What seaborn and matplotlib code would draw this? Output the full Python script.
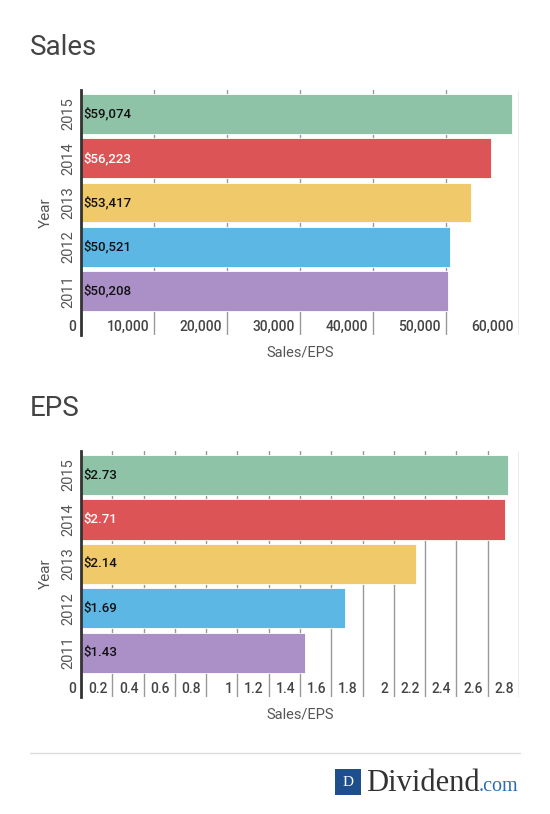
import matplotlib
matplotlib.use("Agg")
import matplotlib.pyplot as plt
from matplotlib.patches import Rectangle
import seaborn as sns
import pandas as pd

# chart data
years = ["2015", "2014", "2013", "2012", "2011"]
sales = [59074, 56223, 53417, 50521, 50208]
eps = [2.73, 2.71, 2.14, 1.69, 1.43]
sales_labels = ["$59,074", "$56,223", "$53,417", "$50,521", "$50,208"]
eps_labels = ["$2.73", "$2.71", "$2.14", "$1.69", "$1.43"]
sales_ticks = [0, 10000, 20000, 30000, 40000, 50000, 60000]
sales_ticklabels = ["0", "10,000", "20,000", "30,000", "40,000", "50,000", "60,000"]
eps_ticks = [0, 0.2, 0.4, 0.6, 0.8, 1.0, 1.2, 1.4, 1.6, 1.8, 2.0, 2.2, 2.4, 2.6, 2.8]
eps_ticklabels = ["0", "0.2", "0.4", "0.6", "0.8", "1", "1.2", "1.4", "1.6", "1.8",
                  "2", "2.2", "2.4", "2.6", "2.8"]
colors = ["#8fc3a8", "#dd5457", "#efc96a", "#5db7e4", "#ab90c7"]
label_colors = ["#111111", "#ffffff", "#111111", "#111111", "#111111"]

sns.set_theme(style="white")
plt.rcParams["font.family"] = ["Roboto", "DejaVu Sans"]

fig = plt.figure(figsize=(5.5, 8.14), dpi=100)
ax1 = fig.add_axes([81 / 550, 1 - 335 / 814, 438 / 550, 245 / 814])
ax2 = fig.add_axes([81 / 550, 1 - 697 / 814, 438 / 550, 246 / 814])


def draw(ax, values, labels, ticks, ticklabels, xmax):
    df = pd.DataFrame({"Year": years, "Value": values})
    sns.barplot(data=df, x="Value", y="Year", hue="Year", order=years,
                palette=colors, saturation=1, legend=False, orient="h", width=0.9,
                edgecolor="white", linewidth=0.6, ax=ax, zorder=3)
    ax.set_xlim(0, xmax)
    ax.set_ylim(4.99, -0.54)
    ax.set_xticks(ticks)
    ax.set_xticklabels([])
    # tick labels sit inside the plot, just left of each grid line
    for v, lab in zip(ticks, ticklabels):
        ax.annotate(lab, xy=(v, 0), xycoords=ax.get_xaxis_transform(),
                    xytext=(-3.6, 0.5), textcoords="offset points",
                    ha="right", va="bottom", fontsize=10, color="#444444",
                    fontweight="medium", zorder=6)
    ax.tick_params(axis="x", length=0)
    ax.tick_params(axis="y", length=0, pad=4)
    for t in ax.get_yticklabels():
        t.set_rotation(90)
        t.set_va("center")
        t.set_fontsize(10.5)
        t.set_color("#555555")
    ax.grid(axis="x", color="#999999", linewidth=1, zorder=0)
    ax.set_axisbelow(True)
    for s in ["top", "right", "bottom"]:
        ax.spines[s].set_visible(False)
    ax.spines["left"].set_color("#333333")
    ax.spines["left"].set_linewidth(2)
    ax.spines["left"].set_zorder(5)
    ax.set_xlabel("Sales/EPS", fontsize=10.5, color="#555555", labelpad=4)
    ax.set_ylabel("Year", fontsize=11, color="#555555", labelpad=6)
    for i, (lab, c) in enumerate(zip(labels, label_colors)):
        ax.annotate(lab, xy=(0, i), xytext=(2, 0), textcoords="offset points",
                    ha="left", va="center", fontsize=9.5, color=c,
                    fontweight="medium", zorder=6)


draw(ax1, sales, sales_labels, sales_ticks, sales_ticklabels, 60000)
draw(ax2, eps, eps_labels, eps_ticks, eps_ticklabels, 2.8)

fig.text(30 / 550, 1 - 55 / 814, "Sales", fontsize=20, color="#444444",
         ha="left", va="baseline")
fig.text(30 / 550, 1 - 416 / 814, "EPS", fontsize=20, color="#444444",
         ha="left", va="baseline")

# footer rule and logo
fig.add_artist(plt.Line2D([30 / 550, 520 / 550], [1 - 753 / 814, 1 - 753 / 814],
                          color="#dddddd", linewidth=1))
fig.add_artist(Rectangle((335 / 550, 1 - 795 / 814), 26 / 550, 26 / 814,
                         facecolor="#1d4f8c", edgecolor="none",
                         transform=fig.transFigure))
fig.text(348 / 550, 1 - 782 / 814, "D", fontsize=11, color="white",
         family="Liberation Serif", ha="center", va="center")
fig.text(366 / 550, 1 - 791 / 814, "Dividend", fontsize=22, color="#333333",
         family="Liberation Serif", ha="left", va="baseline")
fig.text(479 / 550, 1 - 791 / 814, ".com", fontsize=14.5, color="#2a6db5",
         family="Liberation Serif", ha="left", va="baseline")

fig.savefig("out.png", dpi=100, facecolor="white")
